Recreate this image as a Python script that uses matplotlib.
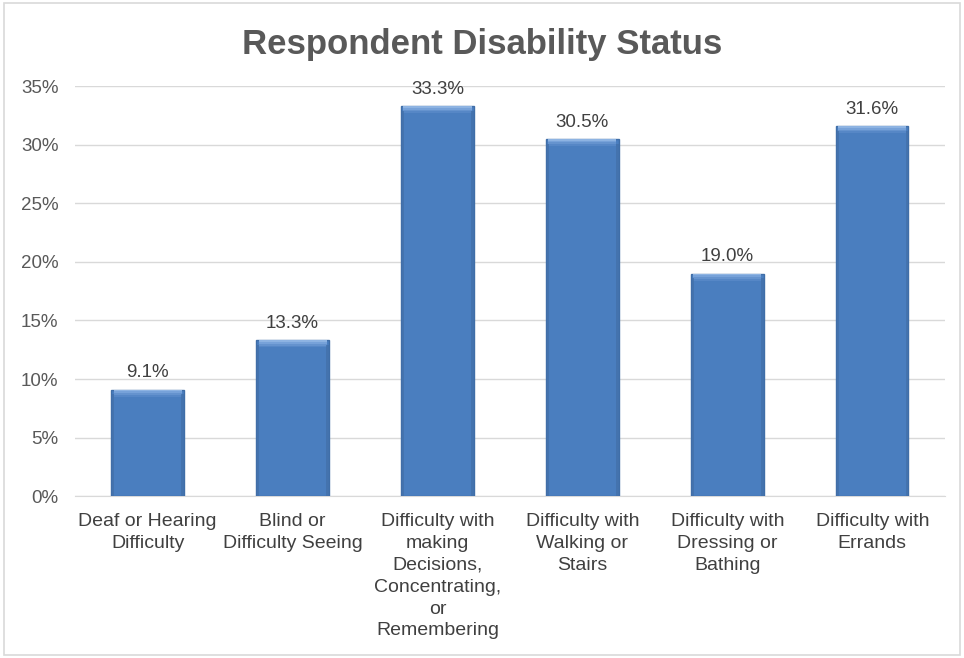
import matplotlib.pyplot as plt
import numpy as np
from matplotlib.patches import Rectangle

categories = ['Deaf or Hearing\nDifficulty', 'Blind or\nDifficulty Seeing',
              'Difficulty with\nmaking\nDecisions,\nConcentrating,\nor\nRemembering',
              'Difficulty with\nWalking or\nStairs', 'Difficulty with\nDressing or\nBathing',
              'Difficulty with\nErrands']
values = [0.091, 0.133, 0.333, 0.305, 0.190, 0.316]
yticks = [0, 0.05, 0.10, 0.15, 0.20, 0.25, 0.30, 0.35]

plt.rcParams['font.family'] = ['Liberation Sans', 'DejaVu Sans']
fig = plt.figure(figsize=(9.64, 6.58), dpi=100)
fig.patches.append(Rectangle((0.004, 0.004), 0.992, 0.992, transform=fig.transFigure,
                             fill=False, edgecolor='#D9D9D9', linewidth=1.2))
ax = fig.add_axes([0.078, 0.246, 0.902, 0.623])

x = np.arange(len(categories))
bw = 0.5
bars = ax.bar(x, values, width=bw, color='#4A7EBF', edgecolor='#3F6EA8', linewidth=1.0, zorder=3)
# bevel: lighter top band, darker sides
for b in bars:
    x0, h, w = b.get_x(), b.get_height(), b.get_width()
    for i, c in enumerate(['#8DB3E2', '#77A2D9', '#6593CE', '#5687C6']):
        ax.add_patch(Rectangle((x0 + 0.015, h - 0.0015 * (i + 1)), w - 0.03, 0.0015,
                               facecolor=c, edgecolor='none', zorder=4))
    for xs in [x0, x0 + w - 0.02]:
        ax.add_patch(Rectangle((xs, 0), 0.02, h - 0.004, facecolor='#426FA8',
                               edgecolor='none', zorder=4, alpha=0.7))
for xi, v in zip(x, values):
    ax.text(xi, v + 0.007, f'{v*100:.1f}%', ha='center', va='bottom', fontsize=13.5, color='#404040')

ax.set_xlim(-0.5, len(categories) - 0.5)
ax.set_ylim(0, 0.35)
ax.set_yticks(yticks)
ax.set_yticklabels([f'{int(round(t*100))}%' for t in yticks])
ax.yaxis.grid(True, color='#D9D9D9', linewidth=1, zorder=0)
ax.set_xticks(x)
ax.set_xticklabels(categories, fontsize=14, color='#404040', linespacing=1.38)
ax.tick_params(axis='y', labelsize=13.5, labelcolor='#595959', length=0, pad=12)
ax.tick_params(axis='x', length=0, pad=12)
for s in ['top', 'right', 'left']:
    ax.spines[s].set_visible(False)
ax.spines['bottom'].set_color('#D9D9D9')

fig.text(0.5, 0.932, 'Respondent Disability Status', ha='center', va='center',
         fontsize=25, fontweight='bold', color='#595959')

fig.savefig('out.png', dpi=100)
